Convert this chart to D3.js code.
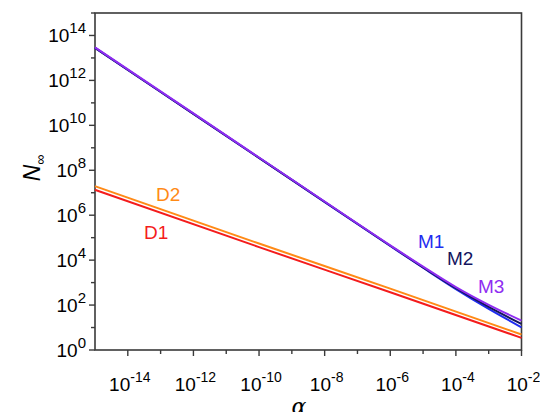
<!DOCTYPE html>
<html>
<head>
<meta charset="utf-8">
<script src="https://cdn.jsdelivr.net/npm/d3@7"></script>
<style>
  body { margin: 0; background: #fff; }
  svg { font-family: "Liberation Sans", Arial, sans-serif; }
</style>
</head>
<body>
<svg id="chart" width="540" height="412"></svg>
<script>
// ── DATA (log10 of alpha, log10 of N∞) ───────────────────────────────────────
const alphaExp = [-15, -12, -9, -6, -5, -4, -3, -2];
const m1 = [13.45, 10.51, 7.57, 4.63, 3.66, 2.71, 1.83, 1.01];
const m2 = [13.45, 10.51, 7.57, 4.64, 3.68, 2.75, 1.92, 1.16];
const m3 = [13.47, 10.53, 7.59, 4.66, 3.71, 2.80, 2.01, 1.31];
const dExp = [-15, -10, -6, -2];
const d1 = [7.13, 4.58, 2.57, 0.54];
const d2 = [7.29, 4.74, 2.73, 0.69];

const series = [
  { name: 'D1', xs: dExp, ys: d1, color: '#f41c1c', label: [144, 239] },
  { name: 'D2', xs: dExp, ys: d2, color: '#ff8a16', label: [156, 201] },
  { name: 'M1', xs: alphaExp, ys: m1, color: '#1f2cf0', label: [418, 248] },
  { name: 'M2', xs: alphaExp, ys: m2, color: '#14145e', label: [447, 265] },
  { name: 'M3', xs: alphaExp, ys: m3, color: '#8f2cf2', label: [478, 293] }
];

const xMajor = [-14, -12, -10, -8, -6, -4, -2];
const yMajor = [0, 2, 4, 6, 8, 10, 12, 14];

// ── SETUP ────────────────────────────────────────────────────────────────────
const svg = d3.select('#chart');
const L = 95, R = 521.5, T = 13, B = 350;
const axisColor = '#3a3a3a';

const x = d3.scaleLog().domain([1e-15, 1e-2]).range([L, R]);
const y = d3.scaleLog().domain([1, 1e15]).range([B, T]);

// frame
svg.append('rect')
  .attr('x', L).attr('y', T).attr('width', R - L).attr('height', B - T)
  .attr('fill', 'none').attr('stroke', axisColor).attr('stroke-width', 1.6);

// ticks
const xTicks = d3.range(-14, -1).map(e => Math.pow(10, e));
svg.append('g').selectAll('line').data(xTicks).join('line')
  .attr('x1', d => x(d)).attr('x2', d => x(d))
  .attr('y1', B).attr('y2', d => B + (Math.round(Math.log10(d)) % 2 === 0 ? 6 : 4))
  .attr('stroke', axisColor).attr('stroke-width', 1.4);

const yTicks = d3.range(0, 16).map(e => Math.pow(10, e));
svg.append('g').selectAll('line').data(yTicks).join('line')
  .attr('y1', d => y(d)).attr('y2', d => y(d))
  .attr('x1', L).attr('x2', d => L - (Math.round(Math.log10(d)) % 2 === 0 ? 6 : 4))
  .attr('stroke', axisColor).attr('stroke-width', 1.4);

// tick labels
const xl = svg.append('g').selectAll('text').data(xMajor).join('text')
  .attr('x', d => x(Math.pow(10, d)) + 2)
  .attr('y', 391)
  .attr('text-anchor', 'middle')
  .attr('font-size', 19).attr('fill', '#000');
xl.append('tspan').text('10');
xl.append('tspan').attr('dy', -9).attr('font-size', 14).text(d => '-' + Math.abs(d));

const yl = svg.append('g').selectAll('text').data(yMajor).join('text')
  .attr('x', 86)
  .attr('y', d => y(Math.pow(10, d)) + 7)
  .attr('text-anchor', 'end')
  .attr('font-size', 19).attr('fill', '#000');
yl.append('tspan').text('10');
yl.append('tspan').attr('dy', -9).attr('font-size', 15).text(d => d);

// axis titles
svg.append('text')
  .attr('transform', 'translate(40,168) rotate(-90)')
  .attr('text-anchor', 'middle')
  .attr('font-size', 23).attr('fill', '#000')
  .call(t => {
    t.append('tspan').attr('font-style', 'italic').text('N');
    t.append('tspan').attr('dy', 5).attr('font-size', 14).text('∞');
  });

svg.append('text')
  .attr('x', 299).attr('y', 414)
  .attr('text-anchor', 'middle')
  .attr('font-size', 22).attr('font-style', 'italic').attr('fill', '#000')
  .attr('font-family', '"DejaVu Serif", serif')
  .text('α');

// lines
const line = d3.line()
  .x(d => x(Math.pow(10, d[0])))
  .y(d => y(Math.pow(10, d[1])))
  .curve(d3.curveMonotoneX);

svg.append('g').selectAll('path').data(series).join('path')
  .attr('d', s => line(s.xs.map((v, i) => [v, s.ys[i]])))
  .attr('fill', 'none')
  .attr('stroke', s => s.color)
  .attr('stroke-width', 2);

svg.append('g').selectAll('text').data(series).join('text')
  .attr('x', s => s.label[0]).attr('y', s => s.label[1])
  .attr('font-size', 19).attr('fill', s => s.color)
  .text(s => s.name);
</script>
</body>
</html>
